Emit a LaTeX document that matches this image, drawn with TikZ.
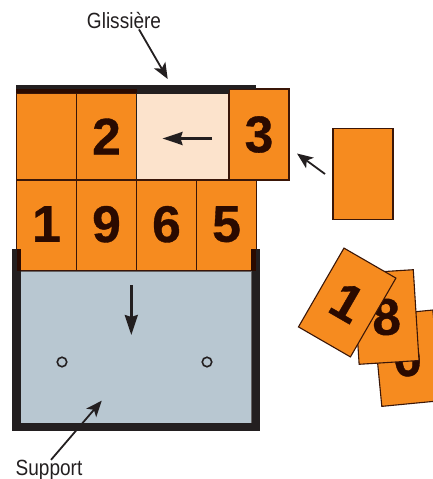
\documentclass[tikz,border=0pt]{standalone}
\usepackage{fontspec}
\usetikzlibrary{arrows.meta, positioning}
\newfontfamily\digitfont[BoldFeatures={FakeBold=0.7}]{Liberation Sans}
\newfontfamily\labelfont[FakeStretch=0.865]{Liberation Sans}
\definecolor{tileorange}{RGB}{246,139,31}
\definecolor{tileedge}{RGB}{58,22,8}
\definecolor{slotcream}{RGB}{252,227,204}
\definecolor{plateblue}{RGB}{184,199,209}
\definecolor{framedark}{RGB}{35,31,32}
\definecolor{railmaroon}{RGB}{42,10,0}

\begin{document}
\begin{tikzpicture}[
  x=1pt, y=-1pt,
  tile/.style={draw=tileedge, line width=1.1pt, fill=tileorange,
               minimum width=60pt, minimum height=91pt, inner sep=0pt,
               outer sep=0pt, text=railmaroon,
               font=\digitfont\bfseries\fontsize{51.6}{52}\selectfont},
  lift/.style={text depth=3pt},
  slot/.style={draw=framedark, line width=1.4pt, fill=slotcream,
               minimum width=92pt, minimum height=87pt, inner sep=0pt,
               outer sep=0pt},
  plate/.style={draw=framedark!70, line width=0.6pt, fill=plateblue,
                minimum width=231pt, minimum height=152pt, inner sep=0pt,
                outer sep=0pt},
  hole/.style={circle, draw=framedark, line width=1.6pt, fill=none,
               minimum size=9.5pt, inner sep=0pt},
  note/.style={text=framedark, inner sep=0pt,
               font=\labelfont\fontsize{22}{24}\selectfont},
  pointer/.style={-{Stealth[length=16pt, width=13pt, inset=4pt]},
                  line width=1.8pt, framedark},
  shifter/.style={-{Stealth[length=20pt, width=13pt, inset=2pt]},
                  line width=2.6pt, framedark}
]
\useasboundingbox (0,0) rectangle (433,479);
\clip (0,0) rectangle (433,479);
\node[tile, minimum height=87pt] (blank) at (46.5,136.5) {};
\node[tile, minimum height=87pt, right=0pt of blank] (two) {2};
\node[slot] (gap) at (182.5,136.5) {};
\node[tile] (three) at (259,134.5) {\raisebox{-2.5pt}{3}};
\node[tile, lift, below=0pt of blank] (one) {1};
\node[tile, lift, right=0pt of one] (nine) {9};
\node[tile, lift, right=0pt of nine] (six) {6};
\node[tile, lift, right=0pt of six] (five) {5};
\node[tile] (spare) at (363,174) {};
\node[tile, rotate=5.5] (zero) at (407.3,358.2) {0};
\node[tile, rotate=3.6] (eight) at (386.2,317) {\raisebox{-2pt}{8}};
\node[tile, rotate=-30] (oneb) at (347.2,302.5) {1};
\node[plate, below=0pt of nine.south west, anchor=north west,
      xshift=-56pt] (base) {};
\draw[framedark, line width=8.3pt, line join=miter]
  (16.4,249) -- (16.4,426.8) -- (255.8,426.8) -- (255.8,249);
\fill[railmaroon] (16.7,249) rectangle (21,271);
\fill[railmaroon] (251,249) rectangle (256,271);
\fill[framedark] (15.5,85) rectangle (256,89);
\fill[railmaroon] (16,89) rectangle (136.5,93);
\fill[framedark] (136.5,89) rectangle (229,93);
\node[hole] (holeleft) at (62,362) {};
\node[hole] (holeright) at (207,362) {};
\node[note] (glissiere) at (124,21) {Glissière};
\node[note] (support) at (49,470) {Support};
\coordinate (railtip) at (167.7,79);
\coordinate (plateup) at (101.7,400.7);
\coordinate (platedown) at (131.3,335);
\draw[pointer] ([xshift=15pt]glissiere.south) -- (railtip);
\draw[pointer] ([xshift=2pt]support.north) -- (plateup);
\draw[pointer] ([xshift=-8pt]spare.west) -- ([xshift=8pt, yshift=-19pt]three.east);
\draw[shifter] ([xshift=-16.5pt, yshift=-2pt]gap.east) -- ([xshift=-20pt, yshift=-2pt]gap.center);
\draw[shifter] ([xshift=-4.7pt, yshift=-14pt]base.north) -- (platedown);
\end{tikzpicture}
\end{document}
